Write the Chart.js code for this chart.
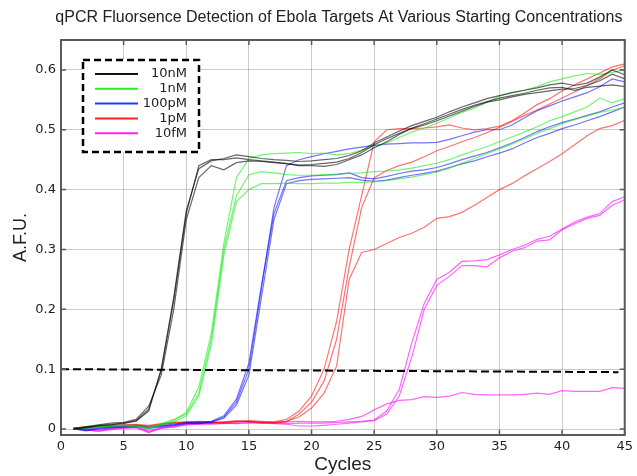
<!DOCTYPE html>
<html>
<head>
<meta charset="utf-8">
<script src="https://cdn.jsdelivr.net/npm/chart.js@4.4.0/dist/chart.umd.min.js"></script>
<style>
html, body { margin: 0; padding: 0; background: #fff; }
</style>
</head>
<body>
<canvas id="qpcrChart" width="637" height="476"></canvas>
<script>
// cycle numbers and axis ticks
const cycles = [1,2,3,4,5,6,7,8,9,10,11,12,13,14,15,16,17,18,19,20,21,22,23,24,25,26,27,28,29,30,31,32,33,34,35,36,37,38,39,40,41,42,43,44,45];
const xTicks = [0,5,10,15,20,25,30,35,40,45];
const yTicks = [0,0.1,0.2,0.3,0.4,0.5,0.6];
const concentrations = ['10nM','1nM','100pM','1pM','10fM'];
const lineColors = ['rgba(0,0,0,0.6)','rgba(0,235,0,0.55)','rgba(0,0,255,0.55)','rgba(255,0,0,0.55)','rgba(255,0,255,0.6)'];
const legendColors = ['#111111','#22ee22','#1a3cf0','#ff2222','#ff22ff'];

// detection threshold (start and end)
const thresholdCycles = [0, 44.5];
const thresholdValues = [0.1, 0.095];

// 10nM replicates
const tenNanoA = [0,0.003,0.006,0.008,0.009, 0.014,0.033,0.098,0.215,0.36, 0.44,0.45,0.45,0.453,0.45, 0.448,0.446,0.443,0.441,0.442, 0.444,0.446,0.452,0.462,0.475, 0.485,0.494,0.503,0.51,0.518, 0.526,0.534,0.541,0.547,0.553, 0.557,0.561,0.566,0.57,0.571, 0.566,0.571,0.573,0.575,0.572];
const tenNanoB = [0.001,0.004,0.007,0.01,0.011, 0.016,0.038,0.09,0.2,0.35, 0.42,0.44,0.433,0.445,0.448, 0.447,0.445,0.444,0.44,0.44, 0.439,0.442,0.45,0.458,0.47, 0.48,0.492,0.502,0.508,0.515, 0.523,0.531,0.539,0.546,0.55, 0.555,0.559,0.562,0.565,0.568, 0.569,0.574,0.582,0.593,0.585];
const tenNanoC = [0,0.002,0.005,0.007,0.01, 0.013,0.03,0.1,0.22,0.365, 0.435,0.448,0.452,0.458,0.455, 0.452,0.45,0.449,0.447,0.448, 0.45,0.452,0.457,0.465,0.478, 0.488,0.498,0.507,0.514,0.521, 0.53,0.538,0.545,0.552,0.557, 0.562,0.566,0.57,0.575,0.578, 0.574,0.578,0.588,0.6,0.592];

// 1nM replicates
const oneNanoA = [0,0.002,0.004,0.005,0.006, 0.006,0.001,0.008,0.014,0.028, 0.07,0.16,0.31,0.42,0.452, 0.458,0.46,0.461,0.462,0.46, 0.461,0.458,0.46,0.466,0.472, 0.478,0.487,0.496,0.503,0.511, 0.52,0.529,0.536,0.546,0.556, 0.562,0.566,0.572,0.58,0.585, 0.59,0.594,0.592,0.596,0.6];
const oneNanoB = [0.001,0.003,0.004,0.006,0.006, 0.005,0.002,0.009,0.016,0.025, 0.06,0.15,0.3,0.39,0.425, 0.43,0.428,0.425,0.424,0.424, 0.425,0.426,0.427,0.428,0.43, 0.431,0.433,0.436,0.44,0.444, 0.45,0.458,0.465,0.472,0.48, 0.488,0.496,0.505,0.515,0.522, 0.53,0.538,0.553,0.545,0.552];
const oneNanoC = [0,0.002,0.003,0.005,0.005, 0.004,0,0.007,0.012,0.022, 0.055,0.14,0.29,0.38,0.4, 0.41,0.41,0.411,0.41,0.41, 0.411,0.411,0.412,0.412,0.413, 0.415,0.418,0.421,0.425,0.429, 0.436,0.444,0.452,0.46,0.468, 0.476,0.485,0.494,0.502,0.51, 0.517,0.523,0.529,0.533,0.538];

// 100pM replicates
const hundredPicoA = [0,-0.002,0.001,0.003,0.004, 0.005,0.002,0.005,0.007,0.01, 0.01,0.012,0.02,0.045,0.1, 0.235,0.37,0.44,0.45,0.455, 0.46,0.464,0.468,0.471,0.474, 0.476,0.477,0.478,0.478,0.479, 0.484,0.49,0.496,0.5,0.5, 0.508,0.52,0.532,0.54,0.548, 0.555,0.562,0.572,0.585,0.58];
const hundredPicoB = [0.001,0,0.002,0.004,0.005, 0.006,0.003,0.006,0.008,0.011, 0.011,0.013,0.022,0.05,0.11, 0.24,0.36,0.415,0.42,0.423, 0.424,0.425,0.428,0.42,0.418, 0.422,0.427,0.431,0.433,0.437, 0.443,0.45,0.456,0.462,0.47, 0.478,0.487,0.497,0.505,0.512, 0.518,0.524,0.53,0.538,0.545];
const hundredPicoC = [0,-0.003,0,0.002,0.003, 0.004,0.001,0.004,0.006,0.009, 0.009,0.011,0.018,0.04,0.09, 0.22,0.35,0.41,0.415,0.417, 0.418,0.419,0.42,0.416,0.414, 0.416,0.42,0.424,0.427,0.431, 0.437,0.443,0.448,0.455,0.461, 0.468,0.478,0.487,0.494,0.502, 0.508,0.515,0.522,0.53,0.538];

// 1pM replicates
const onePicoA = [0.001,0.003,0.004,0.006,0.007, 0.008,0.006,0.009,0.011,0.012, 0.013,0.012,0.011,0.013,0.014, 0.013,0.012,0.016,0.03,0.055, 0.1,0.18,0.3,0.39,0.48, 0.5,0.502,0.502,0.503,0.505, 0.508,0.503,0.5,0.502,0.506, 0.515,0.528,0.542,0.552,0.565, 0.575,0.585,0.595,0.605,0.61];
const onePicoB = [0,0.002,0.005,0.005,0.006, 0.007,0.004,0.008,0.01,0.011, 0.012,0.011,0.01,0.012,0.013, 0.011,0.01,0.012,0.025,0.045, 0.08,0.15,0.27,0.37,0.42, 0.432,0.44,0.446,0.455,0.465, 0.472,0.48,0.487,0.495,0.504, 0.514,0.524,0.533,0.543,0.553, 0.563,0.574,0.585,0.6,0.607];
const onePicoC = [0.002,0.003,0.004,0.005,0.006, 0.006,0.005,0.008,0.01,0.011, 0.011,0.01,0.012,0.014,0.012, 0.01,0.011,0.013,0.02,0.035, 0.06,0.105,0.25,0.295,0.3, 0.31,0.32,0.327,0.337,0.352, 0.355,0.362,0.374,0.387,0.4, 0.41,0.423,0.435,0.447,0.46, 0.475,0.49,0.502,0.507,0.516];

// 10fM replicates
const tenFemtoA = [0,-0.002,-0.003,0,0.002, 0.003,-0.005,0.002,0.004,0.008, 0.009,0.008,0.009,0.01,0.01, 0.011,0.01,0.009,0.01,0.01, 0.01,0.011,0.012,0.013,0.015, 0.03,0.066,0.144,0.21,0.25, 0.262,0.28,0.281,0.283,0.291, 0.3,0.307,0.317,0.322,0.334, 0.346,0.354,0.36,0.38,0.388];
const tenFemtoB = [0.001,-0.001,-0.004,-0.001,0.001, 0.002,-0.006,0.001,0.003,0.007, 0.008,0.009,0.01,0.009,0.011, 0.01,0.009,0.008,0.005,0.005, 0.006,0.008,0.01,0.012,0.014, 0.025,0.055,0.12,0.2,0.24, 0.255,0.273,0.273,0.271,0.286, 0.297,0.303,0.314,0.316,0.333, 0.343,0.352,0.357,0.374,0.383];
const tenFemtoC = [0,-0.001,-0.002,0.001,0.003, 0.004,-0.003,0.003,0.005,0.009, 0.01,0.01,0.011,0.012,0.013, 0.012,0.011,0.012,0.013,0.012, 0.012,0.013,0.016,0.021,0.032, 0.042,0.048,0.049,0.054,0.053, 0.055,0.061,0.058,0.057,0.057, 0.057,0.058,0.06,0.058,0.064, 0.063,0.063,0.063,0.069,0.068];

const replicates = [
    [tenNanoA, tenNanoB, tenNanoC],
    [oneNanoA, oneNanoB, oneNanoC],
    [hundredPicoA, hundredPicoB, hundredPicoC],
    [onePicoA, onePicoB, onePicoC],
    [tenFemtoA, tenFemtoB, tenFemtoC]
];

function toPoints(xs, ys) {
    return ys.map((v, i) => ({ x: xs[i], y: v }));
}

const datasets = [{
    label: 'threshold',
    data: toPoints(thresholdCycles, thresholdValues),
    borderColor: '#000',
    borderWidth: 2,
    borderDash: [8, 4],
    pointRadius: 0
}];
replicates.forEach((group, gi) => {
    group.forEach((values, ri) => {
        datasets.push({
            label: concentrations[gi] + ' #' + (ri + 1),
            data: toPoints(cycles, values),
            borderColor: lineColors[gi],
            borderWidth: 1.2,
            pointRadius: 0,
            tension: 0
        });
    });
});

const tickFont = { family: '"DejaVu Sans"', size: 13 };
const gridColor = 'rgba(0,0,0,0.2)';

// title, frame with inner ticks and the dashed legend box
const decorations = {
    id: 'decorations',
    afterDatasetsDraw(chart) {
        const { ctx, chartArea: a, scales } = chart;
        ctx.save();
        ctx.strokeStyle = '#5a5a5a';
        ctx.lineWidth = 2;
        ctx.strokeRect(a.left, a.top, a.right - a.left, a.bottom - a.top);
        ctx.lineWidth = 1.5;
        ctx.beginPath();
        yTicks.forEach(v => {
            const y = scales.y.getPixelForValue(v);
            ctx.moveTo(a.left, y); ctx.lineTo(a.left + 5, y);
            ctx.moveTo(a.right, y); ctx.lineTo(a.right - 5, y);
        });
        xTicks.forEach(v => {
            const x = scales.x.getPixelForValue(v);
            ctx.moveTo(x, a.bottom); ctx.lineTo(x, a.bottom - 5);
            ctx.moveTo(x, a.top); ctx.lineTo(x, a.top + 5);
        });
        ctx.stroke();
        ctx.restore();
    },
    afterDraw(chart) {
        const { ctx, chartArea: a } = chart;
        ctx.save();
        ctx.fillStyle = '#222';
        ctx.font = '16px "Liberation Sans"';
        ctx.textAlign = 'center';
        ctx.textBaseline = 'middle';
        ctx.fillText('qPCR Fluorsence Detection of Ebola Targets At Various Starting Concentrations', (a.left + a.right) / 2 - 4, 18);

        // legend
        ctx.fillStyle = '#fff';
        ctx.fillRect(83, 60, 116, 92);
        ctx.setLineDash([7, 4]);
        ctx.lineWidth = 2.5;
        ctx.strokeStyle = '#000';
        ctx.strokeRect(83, 60, 116, 92);
        ctx.setLineDash([]);
        ctx.font = '13px "DejaVu Sans"';
        ctx.textAlign = 'right';
        concentrations.forEach((name, i) => {
            const y = 74 + i * 14.8;
            ctx.strokeStyle = legendColors[i];
            ctx.lineWidth = 2;
            ctx.beginPath();
            ctx.moveTo(95, y); ctx.lineTo(138, y);
            ctx.stroke();
            ctx.fillStyle = '#222';
            ctx.fillText(name, 187, y);
        });
        ctx.restore();
    }
};

function drawQpcrChart() {
    const ctx = document.getElementById('qpcrChart').getContext('2d');
    window.qpcrChart = new Chart(ctx, {
        type: 'line',
        data: { datasets: datasets },
        options: {
            responsive: false,
            animation: false,
            devicePixelRatio: 1,
            layout: { padding: { left: 0, right: 9, top: 40, bottom: 0 } },
            plugins: {
                legend: { display: false },
                tooltip: { enabled: false },
                title: { display: false }
            },
            scales: {
                x: {
                    type: 'linear',
                    min: 0,
                    max: 45,
                    afterBuildTicks: s => { s.ticks = xTicks.map(v => ({ value: v })); },
                    afterFit: s => { s.height = 41; },
                    grid: { color: gridColor, drawTicks: false },
                    border: { display: false },
                    ticks: { padding: 4, font: tickFont, color: '#222', maxRotation: 0 },
                    title: { display: true, text: 'Cycles', color: '#222', font: { family: '"Liberation Sans"', size: 19 }, padding: { top: 0, bottom: 0 } }
                },
                y: {
                    min: -0.01,
                    max: 0.65,
                    afterBuildTicks: s => { s.ticks = yTicks.map(v => ({ value: v })); },
                    afterFit: s => { s.width = 61; },
                    grid: { color: gridColor, drawTicks: false },
                    border: { display: false },
                    ticks: { padding: 5, font: tickFont, color: '#222', callback: v => String(v) },
                    title: { display: true, text: 'A.F.U.', color: '#222', font: { family: '"Liberation Sans"', size: 18 }, padding: { top: 10, bottom: 0 } }
                }
            }
        },
        plugins: [decorations]
    });
}

drawQpcrChart();
</script>
</body>
</html>
